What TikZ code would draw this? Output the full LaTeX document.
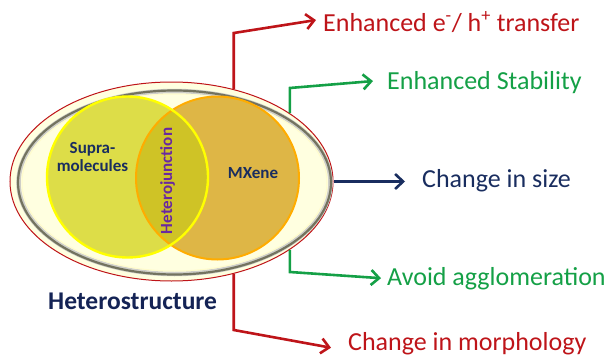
\documentclass[tikz,border=0pt]{standalone}
\usepackage{fontspec}
\setmainfont{Carlito}
\usetikzlibrary{arrows.meta,shapes.geometric}
\definecolor{redc}{RGB}{190,20,25}
\definecolor{greenc}{RGB}{20,160,70}
\definecolor{navyc}{RGB}{25,45,95}
\definecolor{navyd}{RGB}{20,35,85}
\definecolor{purplec}{RGB}{105,40,160}
\definecolor{creamc}{RGB}{255,255,224}
\definecolor{bevelc}{RGB}{115,115,95}
\definecolor{yfill}{RGB}{221,221,72}
\definecolor{yline}{RGB}{255,255,0}
\definecolor{ofill}{RGB}{222,182,70}
\definecolor{oline}{RGB}{255,172,0}
\definecolor{ovfill}{RGB}{207,195,38}
\begin{document}
\begin{tikzpicture}[x=1pt,y=-1pt,
  lbl/.style={inner sep=0pt,anchor=base west,font=\fontsize{26}{30}\selectfont},
  inlbl/.style={inner sep=0pt,font=\bfseries\fontsize{17}{20}\selectfont,text=navyc,align=center},
  conn/.style={line width=2.6pt,line join=miter,-{Straight Barb[length=8pt,width=15pt]}},
  ring/.style={ellipse,inner sep=0pt}
]
\useasboundingbox (0,0) rectangle (608,356);
% outer heterostructure ellipse
\node[ring,minimum width=323pt,minimum height=199pt,fill=creamc,draw=redc,line width=1pt] (hs) at (171.5,181.5) {};
\draw[bevelc!35!white,line width=4.5pt] (174.5,182.5) ellipse (156 and 91.5);
\draw[bevelc,line width=2.2pt] (174.5,182.5) ellipse (156.5 and 92);
\draw[white!80!yellow,line width=1pt] (174.5,182.5) ellipse (152.5 and 88.5);
% circles
\node[circle,minimum size=161pt,inner sep=0pt,fill=yfill] (sm) at (127.5,177) {};
\node[circle,minimum size=163pt,inner sep=0pt,fill=ofill] (mx) at (217.5,178) {};
\begin{scope}
  \clip (127.5,177) circle (80.5);
  \fill[ovfill] (217.5,178) circle (81.5);
\end{scope}
\draw[oline,line width=2pt] (217.5,178) circle (81.5);
\draw[yline,line width=2.4pt] (127.5,177) circle (80.5);
% inner texts
\node[inlbl,anchor=base] (tsm) at (92.5,171) {Supra-\\[-2pt]molecules};
\node[inlbl,anchor=base] (tmx) at (253,178) {MXene};
\node[inner sep=0pt,rotate=90,font=\bfseries\fontsize{17}{20}\selectfont,text=purplec] (thj) at (167.5,181) {Heterojunction};
\node[inner sep=0pt,anchor=base west,font=\bfseries\fontsize{25.5}{30}\selectfont,text=navyd] (ths) at (48,309) {Heterostructure};
% outer labels
\node[lbl,text=redc] (t1) at (323,31) {Enhanced e\textsuperscript{-}/ h\textsuperscript{+} transfer};
\node[lbl,text=greenc] (t2) at (387,89) {Enhanced Stability};
\node[lbl,text=navyc] (t3) at (422,187) {Change in size};
\node[lbl,text=greenc] (t4) at (387,285) {Avoid agglomeration};
\node[lbl,text=redc] (t5) at (348,350.5) {Change in morphology};
% elbow points
\coordinate (k1) at (233,33);
\coordinate (k2) at (290,88);
\coordinate (k4) at (291,272);
\coordinate (k5) at (235,330);
% connectors
\draw[conn,redc] (hs.56) -- (hs.56 |- k1) -- ([xshift=-7pt,yshift=2pt]t1.west);
\draw[conn,greenc] (hs.30) -- (hs.30 |- k2) -- ([xshift=-14pt,yshift=1pt]t2.west);
\draw[conn,navyc] (hs.east) -- ([xshift=-17pt,yshift=0pt]hs.east -| t3.west);
\draw[conn,greenc] (hs.-30) -- (hs.-30 |- k4) -- ([xshift=-6pt,yshift=0pt]t4.west);
\draw[conn,redc] (hs.-56) -- (hs.-56 |- k5) -- ([xshift=-17pt,yshift=-4pt]t5.west);
\end{tikzpicture}
\end{document}
